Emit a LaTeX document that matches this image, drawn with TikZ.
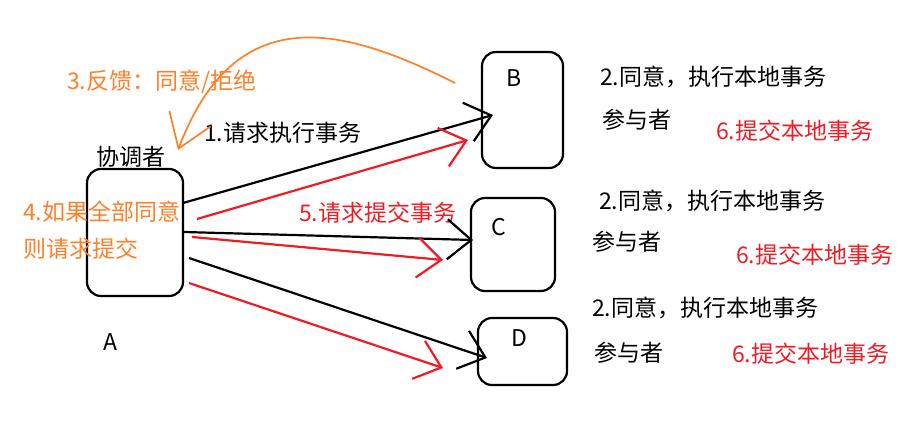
\documentclass[tikz,border=0pt]{standalone}
\usepackage{fontspec}
\setmainfont{Noto Sans CJK SC}
\usetikzlibrary{arrows.meta}
\definecolor{myorange}{RGB}{255,128,40}
\definecolor{myred}{RGB}{240,28,36}
\begin{document}
\begin{tikzpicture}[x=1pt,y=-1pt,
  box/.style={draw,line width=2.2pt,rounded corners=14pt,inner sep=0pt},
  txt/.style={inner sep=0pt,anchor=west,font=\fontsize{23}{27}\selectfont},
  lbl/.style={inner sep=0pt,font=\fontsize{23}{27}\selectfont},
  conn/.style={line width=2.2pt,-{Straight Barb[length=24pt,width=40pt]}},
  blk/.style={conn,black},
  rd/.style={conn,myred},
  fb/.style={line width=1.7pt,myorange,-{Straight Barb[length=32pt,width=44pt]}}]
\useasboundingbox (0,0) rectangle (918,422);
\fill[white] (0,0) rectangle (918,422);
% boxes
\node[box,minimum width=96pt,minimum height=127pt] (A) at (135,232.5) {};
\node[box,minimum width=81pt,minimum height=116pt] (B) at (522.5,110) {};
\node[box,minimum width=84pt,minimum height=93pt] (C) at (513,244.5) {};
\node[box,minimum width=89pt,minimum height=67pt] (D) at (522.5,351.5) {};
% box letters
\node[lbl] (lA) at (110,342) {A};
\node[lbl] (lB) at (514,78) {B};
\node[lbl] (lC) at (499,227) {C};
\node[lbl] (lD) at (519,338) {D};
% texts
\node[txt] (coord) at (96,157) {协调者};
\node[txt,text=myorange] (t3) at (67,82) {3.反馈：同意/拒绝};
\node[txt] (t1) at (204,133) {1.请求执行事务};
\node[txt,text=myorange] (t4a) at (23,212) {4.如果全部同意};
\node[txt,text=myorange] (t4b) at (23,249) {则请求提交};
\node[txt,text=myred] (t5) at (299,213) {5.请求提交事务};
\node[txt] (b2) at (600,77) {2.同意，执行本地事务};
\node[txt] (bp) at (602,120) {参与者};
\node[txt,text=myred] (b6) at (716,131) {6.提交本地事务};
\node[txt] (c2) at (599,201) {2.同意，执行本地事务};
\node[txt] (cp) at (592,242) {参与者};
\node[txt,text=myred] (c6) at (736,255) {6.提交本地事务};
\node[txt] (d2) at (592,308) {2.同意，执行本地事务};
\node[txt] (dp) at (594,353) {参与者};
\node[txt,text=myred] (d6) at (732,354) {6.提交本地事务};
% connector end points
\coordinate (sb1) at (183,203); \coordinate (eb1) at (493,115);
\coordinate (sr1) at (197,219); \coordinate (er1) at (468,140);
\coordinate (sb2) at (184,232); \coordinate (eb2) at (473,240);
\coordinate (sr2) at (192,237); \coordinate (er2) at (443,260);
\coordinate (sb3) at (189,258); \coordinate (eb3) at (487,358);
\coordinate (sr3) at (189,283); \coordinate (er3) at (443,368);
\coordinate (fs) at (455,83); \coordinate (fe) at (178,150);
% connectors
\draw[blk] (sb1) -- (eb1);
\draw[rd] (sr1) -- (er1);
\draw[blk] (sb2) -- (eb2);
\draw[rd] (sr2) -- (er2);
\draw[blk] (sb3) -- (eb3);
\draw[rd] (sr3) -- (er3);
\draw[fb] (fs) .. controls (340,25) and (235,0) .. (fe);
\end{tikzpicture}
\end{document}
